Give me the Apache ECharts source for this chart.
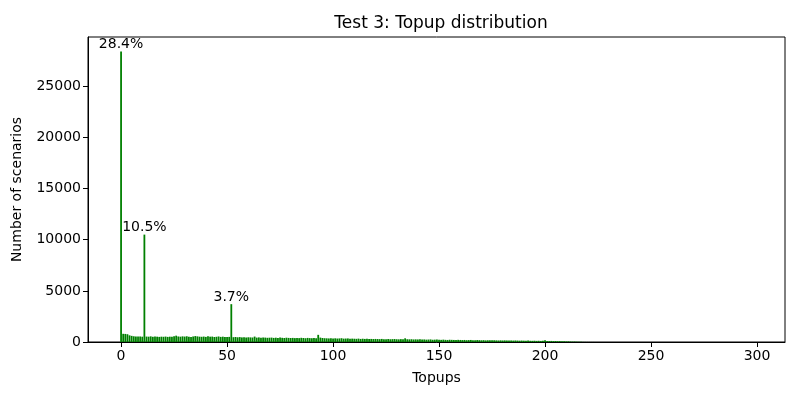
<!DOCTYPE html>
<html>
<head>
<meta charset="utf-8">
<title>Test 3: Topup distribution</title>
<script src="https://cdn.jsdelivr.net/npm/echarts@6/dist/echarts.min.js"></script>
<style>
  html, body { margin: 0; padding: 0; background: #fff; }
  #chart { width: 800px; height: 400px; }
</style>
</head>
<body>
<div id="chart"></div>
<script>
// number of scenarios per topup count (index = topups)
const counts = [
  28400, 800, 790, 760, 650, 600, 560, 540, 530, 540,
  520, 10500, 530, 520, 550, 510, 530, 520, 500, 520,
  510, 530, 500, 520, 510, 560, 620, 540, 520, 550,
  530, 560, 520, 500, 540, 580, 550, 520, 510, 530,
  500, 550, 520, 530, 490, 510, 540, 500, 520, 490,
  480, 500, 3700, 470, 490, 460, 480, 450, 470, 440,
  460, 450, 440, 530, 430, 450, 420, 440, 430, 410,
  420, 430, 400, 420, 400, 430, 410, 390, 420, 400,
  390, 400, 380, 400, 380, 410, 390, 370, 400, 380,
  370, 380, 360, 700, 430, 390, 370, 360, 350, 370,
  350, 360, 340, 350, 370, 330, 340, 350, 320, 330,
  320, 310, 330, 300, 320, 300, 310, 290, 300, 290,
  300, 290, 280, 300, 270, 280, 290, 270, 280, 290,
  270, 260, 280, 260, 360, 270, 260, 270, 250, 260,
  250, 260, 240, 250, 230, 240, 250, 220, 230, 240,
  220, 210, 230, 210, 200, 220, 210, 200, 190, 210,
  200, 190, 200, 180, 190, 200, 180, 170, 190, 180,
  170, 180, 160, 170, 180, 160, 170, 160, 150, 160,
  150, 160, 150, 140, 150, 140, 150, 140, 130, 140,
  130, 125, 135, 120, 115, 125, 110, 120, 105, 110,
  160, 100, 95, 105, 90, 95, 80, 85, 70, 75,
  60, 65, 50, 40, 45, 30, 20, 15, 10, 8,
  6, 5, 4, 4, 3, 2, 3, 2, 1, 2,
  1, 1, 2, 1, 0, 1, 1, 0, 0, 1,
  0, 1, 0, 0, 1, 0, 0, 1, 0, 0,
  0, 0, 0, 0, 1, 0, 0, 0, 0, 0,
  0, 0, 0, 0, 0, 0, 1, 0, 0, 0,
  0, 0, 0, 0, 0, 0, 0, 0, 0, 0,
  0, 0, 0, 0, 0, 0, 0, 0, 0, 0,
  0, 0, 0, 0, 0, 0, 0, 0, 1
];

// percentage labels on the three biggest bars
const labelTopups = [0, 11, 52];
const labelTexts = ['28.4%', '10.5%', '3.7%'];

const xTicks = [0, 50, 100, 150, 200, 250, 300];
const yTicks = [0, 5000, 10000, 15000, 20000, 25000];

const font = 'DejaVu Sans';

let seriesData = counts.map(function (v, i) {
  let k = labelTopups.indexOf(i);
  if (k < 0) return [i, v];
  return {
    value: [i, v],
    label: {
      show: true,
      position: 'top',
      distance: 0,
      formatter: labelTexts[k],
      color: '#000',
      fontFamily: font,
      fontSize: 14
    }
  };
});

let myChart = echarts.init(document.getElementById('chart'), null, { renderer: 'canvas' });

let option = {
  backgroundColor: '#fff',
  animation: false,
  title: {
    text: 'Test 3: Topup distribution',
    left: 436,
    top: 10,
    textAlign: 'center',
    textStyle: { fontFamily: font, fontSize: 17, fontWeight: 'normal', color: '#000' }
  },
  grid: {
    left: 88, right: 15, top: 37, bottom: 58,
    show: true,
    borderColor: '#000',
    borderWidth: 1,
    containLabel: false
  },
  xAxis: {
    type: 'value',
    min: -15.6,
    max: 313.2,
    name: 'Topups',
    nameLocation: 'middle',
    nameGap: 29,
    nameTextStyle: { fontFamily: font, fontSize: 14, color: '#000' },
    axisLine: { show: true, onZero: false, lineStyle: { color: '#000', width: 1 } },
    axisTick: { show: true, length: 5, customValues: xTicks, lineStyle: { color: '#000' } },
    axisLabel: { customValues: xTicks, margin: 7, fontFamily: font, fontSize: 14, color: '#000' },
    splitLine: { show: false }
  },
  yAxis: {
    type: 'value',
    min: 0,
    max: 29820,
    name: 'Number of scenarios',
    nameLocation: 'middle',
    nameGap: 64,
    nameRotate: 90,
    nameTextStyle: { fontFamily: font, fontSize: 14, color: '#000' },
    axisLine: { show: true, onZero: false, lineStyle: { color: '#000', width: 1 } },
    axisTick: { show: true, length: 5, customValues: yTicks, lineStyle: { color: '#000' } },
    axisLabel: {
      customValues: yTicks,
      margin: 7,
      formatter: function (v) { return String(v); },
      fontFamily: font,
      fontSize: 14,
      color: '#000'
    },
    splitLine: { show: false }
  },
  series: [
    {
      type: 'bar',
      data: seriesData,
      barWidth: 1.8,
      itemStyle: { color: '#008000', borderWidth: 0 },
      silent: true
    }
  ]
};

myChart.setOption(option);
</script>
</body>
</html>
